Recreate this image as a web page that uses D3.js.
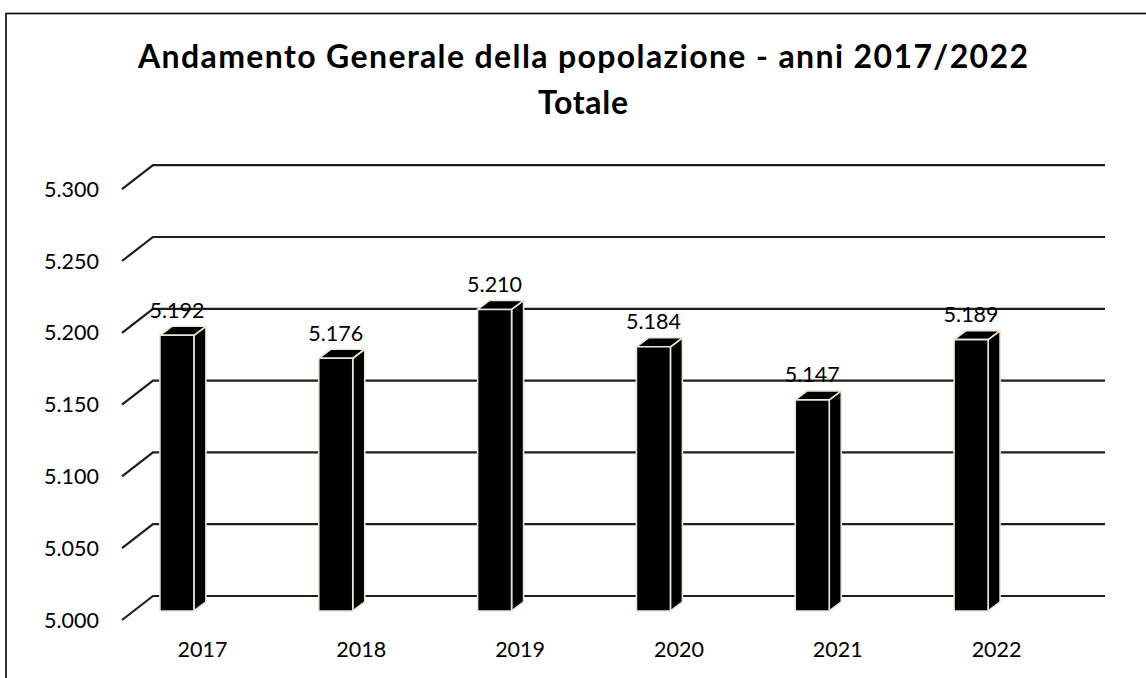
<!DOCTYPE html>
<html>
<head>
<meta charset="utf-8">
<script src="https://cdn.jsdelivr.net/npm/d3@7"></script>
<style>
  html, body { margin: 0; padding: 0; background: #fff; }
  svg { display: block; font-family: Lato, "Open Sans", sans-serif; }
</style>
</head>
<body>
<svg id="chart" width="1146" height="678"></svg>
<script>
// Popolazione totale per anno
const years = ["2017", "2018", "2019", "2020", "2021", "2022"];
const totals = [5192, 5176, 5210, 5184, 5147, 5189];
const tickValues = [5000, 5050, 5100, 5150, 5200, 5250, 5300];
const titleLines = ["Andamento Generale della popolazione - anni 2017/2022", "Totale"];

const fmt = d3.format(",.0f");
const itFmt = v => fmt(v).replace(/,/g, "."); // separatore delle migliaia italiano

const svg = d3.select("#chart");

// Piano frontale del grafico 3D; la parete di fondo è spostata di (wallDx, wallDy)
const wallDx = 31, wallDy = -24;
const x = d3.scaleBand().domain(years).range([123, 1076]);
const y = d3.scaleLinear().domain([5000, 5300]).range([620, 189.2]);
const labelSize = 21.5;

// Cornice
svg.append("rect")
  .attr("x", 6).attr("y", 13.5)
  .attr("width", 1200).attr("height", 800)
  .attr("fill", "none").attr("stroke", "#000").attr("stroke-width", 1.6);

// Titolo
const titleWidths = [890, 90];
svg.append("g").selectAll("text")
  .data(titleLines)
  .join("text")
  .attr("x", 583)
  .attr("y", (d, i) => 68 + i * 46)
  .attr("text-anchor", "middle")
  .attr("font-size", 32)
  .attr("font-weight", "bold")
  .attr("fill", "#000")
  .attr("textLength", (d, i) => titleWidths[i])
  .attr("lengthAdjust", "spacing")
  .text(d => d);

// Griglia: diagonale sul pavimento + linea orizzontale sulla parete di fondo
const grid = svg.append("g");
grid.selectAll("polyline")
  .data(tickValues)
  .join("polyline")
  .attr("points", d => {
    const yf = y(d);
    return [[122, yf], [122 + wallDx, yf + wallDy], [1105, yf + wallDy]].map(p => p.join(",")).join(" ");
  })
  .attr("fill", "none")
  .attr("stroke", "#1e1e1e")
  .attr("stroke-width", 2.2);

// Etichette asse Y
svg.append("g").selectAll("text")
  .data(tickValues)
  .join("text")
  .attr("x", 99)
  .attr("y", d => y(d) + 7.5)
  .attr("text-anchor", "end")
  .attr("font-size", labelSize)
  .attr("fill", "#000")
  .text(d => itFmt(d));

// Etichette categorie
svg.append("g").selectAll("text")
  .data(years)
  .join("text")
  .attr("x", d => x(d) + x.bandwidth() / 2)
  .attr("y", 656.5)
  .attr("text-anchor", "middle")
  .attr("font-size", labelSize)
  .attr("fill", "#000")
  .text(d => d);

// Colonne 3D
const barW = 34, barDx = 12, barDy = -9, barShift = -25.5, barLift = -9;
const data = years.map((yr, i) => ({ year: yr, value: totals[i] }));
const bars = svg.append("g").selectAll("g")
  .data(data)
  .join("g");

const geom = d => {
  const cx = x(d.year) + x.bandwidth() / 2 + barShift;
  const L = cx - barW / 2, R = cx + barW / 2;
  const top = y(d.value) + barLift, base = y(5000) + barLift;
  return { cx, L, R, top, base };
};
const pts = arr => arr.map(p => p.join(",")).join(" ");
const barStyle = sel => sel.attr("fill", "#000").attr("stroke", "#ebe8d8").attr("stroke-width", 1.6).attr("stroke-linejoin", "round");

bars.append("polygon") // lato
  .attr("points", d => { const g = geom(d); return pts([[g.R, g.top], [g.R + barDx, g.top + barDy], [g.R + barDx, g.base + barDy], [g.R, g.base]]); })
  .call(barStyle);
bars.append("polygon") // cima
  .attr("points", d => { const g = geom(d); return pts([[g.L, g.top], [g.L + barDx, g.top + barDy], [g.R + barDx, g.top + barDy], [g.R, g.top]]); })
  .call(barStyle);
bars.append("rect") // fronte
  .attr("x", d => geom(d).L)
  .attr("y", d => geom(d).top)
  .attr("width", barW)
  .attr("height", d => geom(d).base - geom(d).top)
  .call(barStyle);

// Etichette dei valori
bars.append("text")
  .attr("x", d => geom(d).cx)
  .attr("y", d => geom(d).top - 17.5)
  .attr("text-anchor", "middle")
  .attr("font-size", labelSize)
  .attr("fill", "#000")
  .text(d => itFmt(d.value));
</script>
</body>
</html>
